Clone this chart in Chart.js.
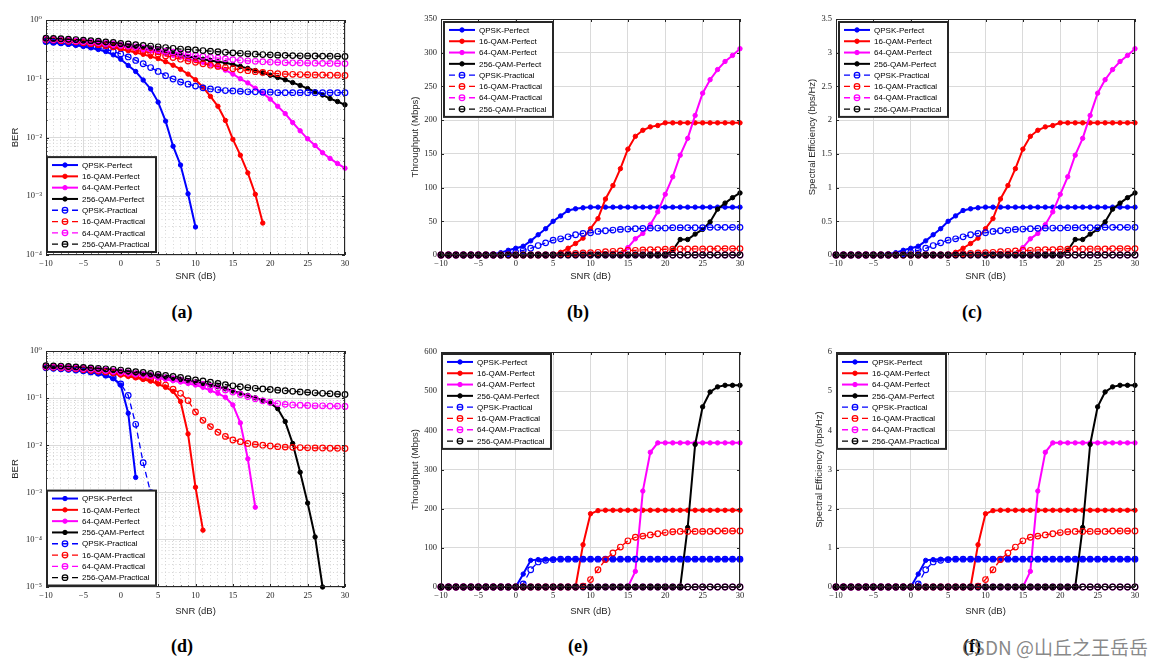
<!DOCTYPE html>
<html lang="en">
<head>
<meta charset="utf-8">
<title>BER, throughput and spectral efficiency vs SNR</title>
<script src="https://cdn.jsdelivr.net/npm/chart.js@4.4.1/dist/chart.umd.min.js"></script>
<style>
  html, body { margin: 0; padding: 0; background: #fff; }
  #page { position: relative; width: 1166px; height: 666px; overflow: hidden; }
  .panel { position: absolute; }
  .cap { position: absolute; width: 60px; margin-left: -30px; text-align: center;
         font: bold 18px "Liberation Serif", "DejaVu Serif", serif; color: #000; line-height: 20px; }
  #mark { position: absolute; left: 962px; top: 633px; white-space: nowrap;
          font: 19px "Noto Sans CJK SC", "Noto Sans", sans-serif; color: rgba(105, 105, 105, 0.8); }
</style>
</head>
<body>
<div id="page">
  <div class="panel" style="left:0px;top:0px;width:360px;height:290px"><canvas id="chartA"></canvas></div>
  <div class="panel" style="left:395px;top:0px;width:370px;height:290px"><canvas id="chartB"></canvas></div>
  <div class="panel" style="left:790px;top:0px;width:370px;height:290px"><canvas id="chartC"></canvas></div>
  <div class="panel" style="left:0px;top:335px;width:360px;height:290px"><canvas id="chartD"></canvas></div>
  <div class="panel" style="left:395px;top:335px;width:370px;height:290px"><canvas id="chartE"></canvas></div>
  <div class="panel" style="left:790px;top:335px;width:370px;height:290px"><canvas id="chartF"></canvas></div>

  <div class="cap" style="left:182px;top:302px">(a)</div>
  <div class="cap" style="left:578px;top:302px">(b)</div>
  <div class="cap" style="left:972px;top:302px">(c)</div>
  <div class="cap" style="left:182px;top:636px">(d)</div>
  <div class="cap" style="left:578px;top:636px">(e)</div>
  <div class="cap" style="left:972px;top:636px">(f)</div>
  <div id="mark">CSDN @山丘之王岳岳</div>
</div>
<script>
// SNR axis (dB), one point per dB
const snr = [-10, -9, -8, -7, -6, -5, -4, -3, -2, -1, 0, 1, 2, 3, 4, 5, 6, 7, 8, 9, 10,
             11, 12, 13, 14, 15, 16, 17, 18, 19, 20, 21, 22, 23, 24, 25, 26, 27, 28, 29, 30];
const snrMajor = [-10, -5, 0, 5, 10, 15, 20, 25, 30];

// tick labels of the y axes
const berDecadesA = [1e-4, 1e-3, 1e-2, 1e-1, 1];
const berDecadesD = [1e-5, 1e-4, 1e-3, 1e-2, 1e-1, 1];
const thrTicksB = [0, 50, 100, 150, 200, 250, 300, 350];
const seTicksC = [0, 0.5, 1, 1.5, 2, 2.5, 3, 3.5];
const thrTicksE = [0, 100, 200, 300, 400, 500, 600];
const seTicksF = [0, 1, 2, 3, 4, 5, 6];

const seriesNames = ['QPSK-Perfect', '16-QAM-Perfect', '64-QAM-Perfect', '256-QAM-Perfect',
                     'QPSK-Practical', '16-QAM-Practical', '64-QAM-Practical', '256-QAM-Practical'];

const zeroLine = [0, 0, 0, 0, 0, 0, 0, 0, 0, 0, 0, 0, 0, 0, 0, 0, 0, 0, 0, 0, 0,
                  0, 0, 0, 0, 0, 0, 0, 0, 0, 0, 0, 0, 0, 0, 0, 0, 0, 0, 0, 0];

// (a) BER, first scenario
const aQpskPerfect = [0.42, 0.41, 0.40, 0.385, 0.37, 0.355, 0.335, 0.315, 0.29, 0.255, 0.215,
  0.168, 0.133, 0.095, 0.067, 0.04, 0.019, 0.0071, 0.0034, 0.0011, 0.0003,
  null, null, null, null, null, null, null, null, null, null, null, null, null, null, null, null, null, null, null, null];
const aQam16Perfect = [0.46, 0.45, 0.44, 0.43, 0.415, 0.40, 0.385, 0.37, 0.355, 0.34, 0.32,
  0.30, 0.28, 0.26, 0.24, 0.22, 0.195, 0.17, 0.145, 0.12, 0.096,
  0.072, 0.05, 0.034, 0.0195, 0.0093, 0.005, 0.0025, 0.00108, 0.00035,
  null, null, null, null, null, null, null, null, null, null, null];
const aQam64Perfect = [0.47, 0.465, 0.455, 0.445, 0.435, 0.425, 0.41, 0.40, 0.385, 0.37, 0.355,
  0.34, 0.325, 0.31, 0.295, 0.28, 0.265, 0.25, 0.235, 0.22, 0.205,
  0.19, 0.175, 0.16, 0.14, 0.12, 0.10, 0.085, 0.069, 0.057, 0.045,
  0.034, 0.0255, 0.018, 0.013, 0.0095, 0.0073, 0.0055, 0.0044, 0.0036, 0.003];
const aQam256Perfect = [0.48, 0.475, 0.47, 0.46, 0.45, 0.44, 0.43, 0.42, 0.405, 0.39, 0.375,
  0.36, 0.345, 0.33, 0.315, 0.30, 0.285, 0.27, 0.255, 0.24, 0.228,
  0.215, 0.205, 0.195, 0.187, 0.175, 0.162, 0.15, 0.138, 0.126, 0.115,
  0.105, 0.096, 0.086, 0.077, 0.068, 0.06, 0.053, 0.046, 0.041, 0.036];
const aQpskPractical = [0.43, 0.42, 0.41, 0.40, 0.385, 0.37, 0.355, 0.335, 0.315, 0.29, 0.265,
  0.235, 0.205, 0.18, 0.155, 0.133, 0.113, 0.099, 0.088, 0.081, 0.075,
  0.07, 0.067, 0.065, 0.063, 0.062, 0.061, 0.06, 0.06, 0.059, 0.059,
  0.058, 0.058, 0.058, 0.058, 0.058, 0.058, 0.058, 0.058, 0.058, 0.058];
const aQam16Practical = [0.46, 0.455, 0.445, 0.435, 0.425, 0.41, 0.395, 0.38, 0.365, 0.35, 0.335,
  0.32, 0.305, 0.29, 0.275, 0.26, 0.245, 0.23, 0.215, 0.2, 0.19,
  0.18, 0.17, 0.162, 0.155, 0.148, 0.142, 0.137, 0.132, 0.128, 0.125,
  0.122, 0.12, 0.119, 0.118, 0.117, 0.116, 0.116, 0.115, 0.115, 0.114];
const aQam64Practical = [0.47, 0.465, 0.46, 0.45, 0.44, 0.43, 0.42, 0.41, 0.40, 0.39, 0.375,
  0.36, 0.35, 0.335, 0.32, 0.31, 0.295, 0.285, 0.27, 0.26, 0.25,
  0.24, 0.232, 0.225, 0.218, 0.212, 0.206, 0.202, 0.198, 0.195, 0.192,
  0.19, 0.188, 0.187, 0.186, 0.185, 0.184, 0.183, 0.182, 0.182, 0.181];
const aQam256Practical = [0.49, 0.485, 0.48, 0.47, 0.465, 0.455, 0.445, 0.435, 0.425, 0.415, 0.40,
  0.39, 0.38, 0.37, 0.36, 0.35, 0.34, 0.33, 0.32, 0.315, 0.31,
  0.302, 0.295, 0.288, 0.282, 0.276, 0.271, 0.266, 0.262, 0.258, 0.255,
  0.252, 0.25, 0.248, 0.246, 0.245, 0.244, 0.243, 0.242, 0.241, 0.24];

// (b) throughput (Mbps), first scenario
const bQpskPerfect = [0, 0, 0, 0, 0, 0, 0, 1.5, 3.5, 7, 10,
  13, 21, 30, 39, 50, 58, 66, 68.5, 70, 71,
  71, 71, 71, 71, 71, 71, 71, 71, 71, 71, 71, 71, 71, 71, 71, 71, 71, 71, 71, 71];
const bQam16Perfect = [0, 0, 0, 0, 0, 0, 0, 0, 0, 0, 0,
  0, 0, 0, 0, 0, 4, 10, 17, 25, 39,
  54, 83, 103, 128, 157, 176, 185, 190, 192, 196,
  196, 196, 196, 196, 196, 196, 196, 196, 196, 196];
const bQam64Perfect = [0, 0, 0, 0, 0, 0, 0, 0, 0, 0, 0,
  0, 0, 0, 0, 0, 0, 0, 0, 0, 0,
  0, 0, 0, 0, 11, 24, 32, 45, 64, 90,
  116, 148, 173, 207, 240, 260, 275, 287, 296, 306];
const bQam256Perfect = [0, 0, 0, 0, 0, 0, 0, 0, 0, 0, 0,
  0, 0, 0, 0, 0, 0, 0, 0, 0, 0,
  0, 0, 0, 0, 0, 0, 0, 0, 0, 0,
  7, 23, 23, 31, 38, 49, 68, 77, 85, 92];
const bQpskPractical = [0, 0, 0, 0, 0, 0, 0, 0, 0, 2, 4,
  7, 10, 14, 18, 22, 24, 27, 30, 32, 33,
  35, 36, 37, 38, 38.5, 39, 39.5, 40, 40, 40,
  40.5, 40.5, 40.5, 40.5, 40.5, 41, 41, 41, 41, 41];
const bQam16Practical = [0, 0, 0, 0, 0, 0, 0, 0, 0, 0, 0,
  0, 0, 0, 0, 0, 1, 2, 2.5, 3, 3.5,
  4, 5, 5.5, 6, 7, 7, 7.5, 8, 8, 8.5,
  8.5, 9, 9, 9, 9, 9, 9.5, 9.5, 9.5, 9.5];

// (c) spectral efficiency (bps/Hz), first scenario
const cQpskPerfect = [0, 0, 0, 0, 0, 0, 0, 0.015, 0.035, 0.07, 0.10,
  0.13, 0.21, 0.30, 0.39, 0.50, 0.58, 0.66, 0.685, 0.70, 0.71,
  0.71, 0.71, 0.71, 0.71, 0.71, 0.71, 0.71, 0.71, 0.71, 0.71, 0.71, 0.71, 0.71, 0.71, 0.71, 0.71, 0.71, 0.71, 0.71, 0.71];
const cQam16Perfect = [0, 0, 0, 0, 0, 0, 0, 0, 0, 0, 0,
  0, 0, 0, 0, 0, 0.04, 0.10, 0.17, 0.25, 0.39,
  0.54, 0.83, 1.03, 1.28, 1.57, 1.76, 1.85, 1.90, 1.92, 1.96,
  1.96, 1.96, 1.96, 1.96, 1.96, 1.96, 1.96, 1.96, 1.96, 1.96];
const cQam64Perfect = [0, 0, 0, 0, 0, 0, 0, 0, 0, 0, 0,
  0, 0, 0, 0, 0, 0, 0, 0, 0, 0,
  0, 0, 0, 0, 0.11, 0.24, 0.32, 0.45, 0.64, 0.90,
  1.16, 1.48, 1.73, 2.07, 2.40, 2.60, 2.75, 2.87, 2.96, 3.06];
const cQam256Perfect = [0, 0, 0, 0, 0, 0, 0, 0, 0, 0, 0,
  0, 0, 0, 0, 0, 0, 0, 0, 0, 0,
  0, 0, 0, 0, 0, 0, 0, 0, 0, 0,
  0.07, 0.23, 0.23, 0.31, 0.38, 0.49, 0.68, 0.77, 0.85, 0.92];
const cQpskPractical = [0, 0, 0, 0, 0, 0, 0, 0, 0, 0.02, 0.04,
  0.07, 0.10, 0.14, 0.18, 0.22, 0.24, 0.27, 0.30, 0.32, 0.33,
  0.35, 0.36, 0.37, 0.38, 0.385, 0.39, 0.395, 0.40, 0.40, 0.40,
  0.405, 0.405, 0.405, 0.405, 0.405, 0.41, 0.41, 0.41, 0.41, 0.41];
const cQam16Practical = [0, 0, 0, 0, 0, 0, 0, 0, 0, 0, 0,
  0, 0, 0, 0, 0, 0.01, 0.02, 0.025, 0.03, 0.035,
  0.04, 0.05, 0.055, 0.06, 0.07, 0.07, 0.075, 0.08, 0.08, 0.085,
  0.085, 0.09, 0.09, 0.09, 0.09, 0.09, 0.095, 0.095, 0.095, 0.095];

// (d) BER, second scenario
const dQpskPerfect = [0.43, 0.42, 0.41, 0.40, 0.385, 0.37, 0.35, 0.33, 0.30, 0.26, 0.19,
  0.048, 0.0021, null, null, null, null, null, null, null, null,
  null, null, null, null, null, null, null, null, null, null,
  null, null, null, null, null, null, null, null, null, null];
const dQam16Perfect = [0.45, 0.44, 0.43, 0.42, 0.41, 0.395, 0.38, 0.365, 0.35, 0.33, 0.31,
  0.29, 0.27, 0.25, 0.23, 0.2, 0.17, 0.14, 0.085, 0.0175, 0.0013,
  0.00016, null, null, null, null, null, null, null, null, null,
  null, null, null, null, null, null, null, null, null, null];
const dQam64Perfect = [0.46, 0.455, 0.445, 0.435, 0.425, 0.41, 0.40, 0.385, 0.37, 0.355, 0.34,
  0.325, 0.31, 0.295, 0.28, 0.265, 0.25, 0.235, 0.22, 0.205, 0.19,
  0.17, 0.145, 0.127, 0.105, 0.072, 0.030, 0.0052, 0.00049, null, null,
  null, null, null, null, null, null, null, null, null, null];
const dQam256Perfect = [0.48, 0.475, 0.47, 0.46, 0.45, 0.44, 0.43, 0.415, 0.40, 0.385, 0.37,
  0.355, 0.34, 0.325, 0.31, 0.295, 0.28, 0.265, 0.25, 0.235, 0.22,
  0.205, 0.19, 0.175, 0.158, 0.142, 0.128, 0.115, 0.102, 0.09, 0.079,
  0.06, 0.032, 0.011, 0.0027, 0.0006, 0.000115, 0.00001, null, null, null];
const dQpskPractical = [0.44, 0.43, 0.42, 0.41, 0.395, 0.38, 0.36, 0.34, 0.31, 0.27, 0.20,
  0.115, 0.028, 0.0043, 0.001, null, null, null, null, null, null,
  null, null, null, null, null, null, null, null, null, null,
  null, null, null, null, null, null, null, null, null, null];
const dQam16Practical = [0.46, 0.45, 0.44, 0.43, 0.42, 0.405, 0.39, 0.375, 0.36, 0.345, 0.325,
  0.305, 0.285, 0.265, 0.245, 0.22, 0.19, 0.155, 0.127, 0.089, 0.051,
  0.034, 0.025, 0.019, 0.0155, 0.013, 0.012, 0.011, 0.0105, 0.0101, 0.0097,
  0.0094, 0.0092, 0.0091, 0.009, 0.0089, 0.0088, 0.0088, 0.0087, 0.0087, 0.0086];
const dQam64Practical = [0.47, 0.465, 0.455, 0.445, 0.435, 0.425, 0.415, 0.40, 0.39, 0.375, 0.36,
  0.345, 0.33, 0.315, 0.3, 0.285, 0.27, 0.255, 0.24, 0.225, 0.21,
  0.195, 0.18, 0.165, 0.15, 0.135, 0.12, 0.108, 0.097, 0.088, 0.082,
  0.077, 0.074, 0.072, 0.071, 0.07, 0.069, 0.069, 0.068, 0.068, 0.067];
const dQam256Practical = [0.49, 0.485, 0.48, 0.47, 0.46, 0.45, 0.44, 0.43, 0.42, 0.41, 0.395,
  0.38, 0.365, 0.35, 0.335, 0.32, 0.305, 0.29, 0.275, 0.26, 0.245,
  0.232, 0.218, 0.205, 0.193, 0.183, 0.175, 0.168, 0.162, 0.157, 0.153,
  0.148, 0.144, 0.14, 0.136, 0.133, 0.13, 0.127, 0.125, 0.122, 0.12];

// (e) throughput (Mbps), second scenario
const eQpskPerfect = [0, 0, 0, 0, 0, 0, 0, 0, 0, 0, 0,
  33, 68, 70, 71, 71, 71, 71, 71, 71, 71,
  71, 71, 71, 71, 71, 71, 71, 71, 71, 71, 71, 71, 71, 71, 71, 71, 71, 71, 71, 71];
const eQam16Perfect = [0, 0, 0, 0, 0, 0, 0, 0, 0, 0, 0,
  0, 0, 0, 0, 0, 0, 0, 0, 108, 187,
  195, 196, 196, 196, 196, 196, 196, 196, 196, 196,
  196, 196, 196, 196, 196, 196, 196, 196, 196, 196];
const eQam64Perfect = [0, 0, 0, 0, 0, 0, 0, 0, 0, 0, 0,
  0, 0, 0, 0, 0, 0, 0, 0, 0, 0,
  0, 0, 0, 0, 0, 40, 245, 344, 368, 368,
  368, 368, 368, 368, 368, 368, 368, 368, 368, 368];
const eQam256Perfect = [0, 0, 0, 0, 0, 0, 0, 0, 0, 0, 0,
  0, 0, 0, 0, 0, 0, 0, 0, 0, 0,
  0, 0, 0, 0, 0, 0, 0, 0, 0, 0,
  0, 0, 152, 364, 460, 498, 511, 515, 515, 515];
const eQpskPractical = [0, 0, 0, 0, 0, 0, 0, 0, 0, 0, 0,
  8, 44, 64, 68, 70, 71, 71, 71, 71, 71,
  71, 71, 71, 71, 71, 71, 71, 71, 71, 71, 71, 71, 71, 71, 71, 71, 71, 71, 71, 71];
const eQam16Practical = [0, 0, 0, 0, 0, 0, 0, 0, 0, 0, 0,
  0, 0, 0, 0, 0, 0, 0, 0, 2, 19,
  44, 70, 87, 102, 118, 127, 130, 133, 136, 139,
  141, 142, 142, 142, 142, 142, 143, 143, 143, 143];

// (f) spectral efficiency (bps/Hz), second scenario
const fQpskPerfect = [0, 0, 0, 0, 0, 0, 0, 0, 0, 0, 0,
  0.33, 0.68, 0.70, 0.71, 0.71, 0.71, 0.71, 0.71, 0.71, 0.71,
  0.71, 0.71, 0.71, 0.71, 0.71, 0.71, 0.71, 0.71, 0.71, 0.71, 0.71, 0.71, 0.71, 0.71, 0.71, 0.71, 0.71, 0.71, 0.71, 0.71];
const fQam16Perfect = [0, 0, 0, 0, 0, 0, 0, 0, 0, 0, 0,
  0, 0, 0, 0, 0, 0, 0, 0, 1.08, 1.87,
  1.95, 1.96, 1.96, 1.96, 1.96, 1.96, 1.96, 1.96, 1.96, 1.96,
  1.96, 1.96, 1.96, 1.96, 1.96, 1.96, 1.96, 1.96, 1.96, 1.96];
const fQam64Perfect = [0, 0, 0, 0, 0, 0, 0, 0, 0, 0, 0,
  0, 0, 0, 0, 0, 0, 0, 0, 0, 0,
  0, 0, 0, 0, 0, 0.40, 2.45, 3.44, 3.68, 3.68,
  3.68, 3.68, 3.68, 3.68, 3.68, 3.68, 3.68, 3.68, 3.68, 3.68];
const fQam256Perfect = [0, 0, 0, 0, 0, 0, 0, 0, 0, 0, 0,
  0, 0, 0, 0, 0, 0, 0, 0, 0, 0,
  0, 0, 0, 0, 0, 0, 0, 0, 0, 0,
  0, 0, 1.52, 3.64, 4.60, 4.98, 5.11, 5.15, 5.15, 5.15];
const fQpskPractical = [0, 0, 0, 0, 0, 0, 0, 0, 0, 0, 0,
  0.08, 0.44, 0.64, 0.68, 0.70, 0.71, 0.71, 0.71, 0.71, 0.71,
  0.71, 0.71, 0.71, 0.71, 0.71, 0.71, 0.71, 0.71, 0.71, 0.71, 0.71, 0.71, 0.71, 0.71, 0.71, 0.71, 0.71, 0.71, 0.71, 0.71];
const fQam16Practical = [0, 0, 0, 0, 0, 0, 0, 0, 0, 0, 0,
  0, 0, 0, 0, 0, 0, 0, 0, 0.02, 0.19,
  0.44, 0.70, 0.87, 1.02, 1.18, 1.27, 1.30, 1.33, 1.36, 1.39,
  1.41, 1.42, 1.42, 1.42, 1.42, 1.42, 1.43, 1.43, 1.43, 1.43];

// ---- styling ----
const TXT = '#262626';
const COLORS = ['#0000ff', '#ff0000', '#ff00ff', '#000000'];
const TICK_FONT = { family: '"Liberation Serif", "DejaVu Serif", serif', size: 8.5 };
const TITLE_FONT = { family: '"Liberation Sans", Arial, sans-serif', size: 9.5, lineHeight: 1.2 };
const GRID_MAJOR = '#dadada';
const GRID_MINOR = '#d6d6d6';
const SUP = { '-': '\u207B', '0': '\u2070', '1': '\u00B9', '2': '\u00B2', '3': '\u00B3', '4': '\u2074', '5': '\u2075' };

function makeSets(perfect, practical) {
  const sets = [];
  perfect.forEach((d, i) => sets.push({
    label: seriesNames[i], data: d, borderColor: COLORS[i], backgroundColor: COLORS[i],
    borderWidth: 2, pointRadius: 2.2, pointBorderWidth: 1, pointBackgroundColor: COLORS[i],
    pointBorderColor: COLORS[i], filled: true, order: 8 - i
  }));
  practical.forEach((d, i) => sets.push({
    label: seriesNames[i + 4], data: d, borderColor: COLORS[i], backgroundColor: 'rgba(0,0,0,0)',
    borderWidth: 1.3, borderDash: [6, 4], pointRadius: 2.8, pointBorderWidth: 1.2,
    pointBackgroundColor: 'rgba(0,0,0,0)', pointBorderColor: COLORS[i], filled: false, order: 4 - i
  }));
  return sets;
}

function minusSign(v) { return String(v).replace('-', '\u2212'); }
function powLabel(v) {
  const e = String(Math.round(Math.log10(v)));
  return '10' + e.split('').map(ch => SUP[ch]).join('');
}

// frame, inward ticks and the boxed legend drawn the way MATLAB does
const matlabBox = {
  id: 'matlabBox',
  afterDatasetsDraw(chart) {
    const { ctx, chartArea: a, scales: { x, y } } = chart;
    ctx.save();
    ctx.strokeStyle = TXT;
    ctx.lineWidth = 1;
    ctx.setLineDash([]);
    ctx.beginPath();
    x.ticks.forEach(t => {
      const px = Math.round(x.getPixelForValue(t.value)) + 0.5;
      const len = t.major ? 3 : 1.6;
      ctx.moveTo(px, a.bottom); ctx.lineTo(px, a.bottom - len);
      ctx.moveTo(px, a.top); ctx.lineTo(px, a.top + len);
    });
    y.ticks.forEach(t => {
      const py = Math.round(y.getPixelForValue(t.value)) + 0.5;
      const len = t.major ? 3 : 1.6;
      ctx.moveTo(a.left, py); ctx.lineTo(a.left + len, py);
      ctx.moveTo(a.right, py); ctx.lineTo(a.right - len, py);
    });
    ctx.stroke();
    ctx.strokeRect(Math.round(a.left) + 0.5, Math.round(a.top) + 0.5,
                   Math.round(a.width) - 1, Math.round(a.height) - 1);
    ctx.restore();
  },
  afterDraw(chart, args, opts) {
    const { ctx, chartArea: a } = chart;
    const sets = chart.data.datasets;
    const W = 109, ROW = 11.3, H = ROW * sets.length + 4.5;
    const L = a.left + opts.dx;
    const T = opts.corner === 'sw' ? a.bottom - opts.dy - H : a.top + opts.dy;
    ctx.save();
    ctx.fillStyle = '#fff';
    ctx.fillRect(L, T, W, H);
    ctx.lineWidth = 2;
    ctx.strokeStyle = TXT;
    ctx.strokeRect(L, T, W, H);
    ctx.font = '8px "Liberation Sans", Arial, sans-serif';
    ctx.textBaseline = 'middle';
    sets.forEach((ds, i) => {
      const cy = T + 2.3 + ROW * (i + 0.5);
      ctx.strokeStyle = ds.borderColor;
      ctx.lineWidth = ds.borderWidth;
      ctx.setLineDash(ds.borderDash || []);
      ctx.beginPath(); ctx.moveTo(L + 5, cy); ctx.lineTo(L + 31, cy); ctx.stroke();
      ctx.setLineDash([]);
      ctx.lineWidth = ds.pointBorderWidth;
      ctx.beginPath(); ctx.arc(L + 18, cy, ds.pointRadius, 0, Math.PI * 2);
      if (ds.filled) { ctx.fillStyle = ds.borderColor; ctx.fill(); }
      ctx.stroke();
      ctx.fillStyle = '#000';
      ctx.fillText(ds.label, L + 35, cy + 0.5);
    });
    ctx.restore();
  }
};

function gridOpts() {
  return {
    grid: { drawTicks: false, lineWidth: 1, color: c => (c.tick && c.tick.major ? GRID_MAJOR : GRID_MINOR) },
    border: { display: false, dash: c => (c.tick && c.tick.major ? [] : [1, 2.5]) }
  };
}

function makePanel(id, p) {
  const xTicks = p.xMinor ? snr : snrMajor;
  const yScale = Object.assign({
    type: p.log ? 'logarithmic' : 'linear',
    min: p.yTicks[0], max: p.yTicks[p.yTicks.length - 1],
    afterBuildTicks: s => {
      if (p.log) {
        const t = [];
        p.yTicks.forEach((d, k) => {
          t.push({ value: d, major: true });
          if (k < p.yTicks.length - 1) for (let m = 2; m < 10; m++) t.push({ value: d * m, major: false });
        });
        s.ticks = t;
      } else {
        s.ticks = p.yTicks.map(v => ({ value: v, major: true }));
      }
    },
    afterFit: s => { s.width = p.yW; },
    ticks: {
      autoSkip: false, padding: 4, color: TXT, font: TICK_FONT,
      callback: (v, i, t) => (t[i].major ? (p.log ? powLabel(v) : minusSign(v)) : '')
    },
    title: { display: true, text: p.yTitle, color: TXT, font: TITLE_FONT, padding: { top: p.yTitlePad, bottom: 0 } }
  }, gridOpts());

  const xScale = Object.assign({
    type: 'linear', min: -10, max: 30,
    afterBuildTicks: s => { s.ticks = xTicks.map(v => ({ value: v, major: snrMajor.includes(v) })); },
    afterFit: s => { s.height = p.xH; },
    ticks: {
      autoSkip: false, maxRotation: 0, padding: 4, color: TXT, font: TICK_FONT,
      callback: (v, i, t) => (t[i].major ? minusSign(v) : '')
    },
    title: { display: true, text: 'SNR (dB)', color: TXT, font: TITLE_FONT, padding: { top: 0, bottom: 7.6 } }
  }, gridOpts());

  return new Chart(document.getElementById(id), {
    type: 'line',
    data: { labels: snr, datasets: makeSets(p.perfect, p.practical) },
    options: {
      responsive: true, maintainAspectRatio: false, animation: false,
      layout: { padding: { left: 0, top: p.padTop, right: p.padRight, bottom: 0 } },
      elements: { line: { tension: 0 } },
      datasets: { line: { clip: false, spanGaps: false } },
      scales: { x: xScale, y: yScale },
      plugins: {
        legend: { display: false },
        tooltip: { enabled: false },
        matlabBox: p.legend
      }
    },
    plugins: [matlabBox]
  });
}

makePanel('chartA', {
  log: true, yTicks: berDecadesA, xMinor: true, yTitle: 'BER', yTitlePad: 9.3,
  yW: 46, xH: 35, padTop: 20, padRight: 15,
  perfect: [aQpskPerfect, aQam16Perfect, aQam64Perfect, aQam256Perfect],
  practical: [aQpskPractical, aQam16Practical, aQam64Practical, aQam256Practical],
  legend: { corner: 'sw', dx: 1, dy: 3 }
});
makePanel('chartB', {
  log: false, yTicks: thrTicksB, xMinor: false, yTitle: 'Throughput (Mbps)', yTitlePad: 14.3,
  yW: 46, xH: 35, padTop: 19, padRight: 25,
  perfect: [bQpskPerfect, bQam16Perfect, bQam64Perfect, bQam256Perfect],
  practical: [bQpskPractical, bQam16Practical, zeroLine, zeroLine],
  legend: { corner: 'nw', dx: 3, dy: 3 }
});
makePanel('chartC', {
  log: false, yTicks: seTicksC, xMinor: false, yTitle: 'Spectral Efficiency (bps/Hz)', yTitlePad: 17,
  yW: 46, xH: 35, padTop: 19, padRight: 25,
  perfect: [cQpskPerfect, cQam16Perfect, cQam64Perfect, cQam256Perfect],
  practical: [cQpskPractical, cQam16Practical, zeroLine, zeroLine],
  legend: { corner: 'nw', dx: 3, dy: 3 }
});
makePanel('chartD', {
  log: true, yTicks: berDecadesD, xMinor: true, yTitle: 'BER', yTitlePad: 9.3,
  yW: 46, xH: 38, padTop: 16, padRight: 15,
  perfect: [dQpskPerfect, dQam16Perfect, dQam64Perfect, dQam256Perfect],
  practical: [dQpskPractical, dQam16Practical, dQam64Practical, dQam256Practical],
  legend: { corner: 'sw', dx: 1, dy: 1.5 }
});
makePanel('chartE', {
  log: false, yTicks: thrTicksE, xMinor: false, yTitle: 'Throughput (Mbps)', yTitlePad: 14.3,
  yW: 46, xH: 38, padTop: 17, padRight: 25,
  perfect: [eQpskPerfect, eQam16Perfect, eQam64Perfect, eQam256Perfect],
  practical: [eQpskPractical, eQam16Practical, zeroLine, zeroLine],
  legend: { corner: 'nw', dx: 1, dy: 2 }
});
makePanel('chartF', {
  log: false, yTicks: seTicksF, xMinor: false, yTitle: 'Spectral Efficiency (bps/Hz)', yTitlePad: 23.6,
  yW: 46, xH: 38, padTop: 17, padRight: 25,
  perfect: [fQpskPerfect, fQam16Perfect, fQam64Perfect, fQam256Perfect],
  practical: [fQpskPractical, fQam16Practical, zeroLine, zeroLine],
  legend: { corner: 'nw', dx: 1, dy: 2 }
});
</script>
</body>
</html>
